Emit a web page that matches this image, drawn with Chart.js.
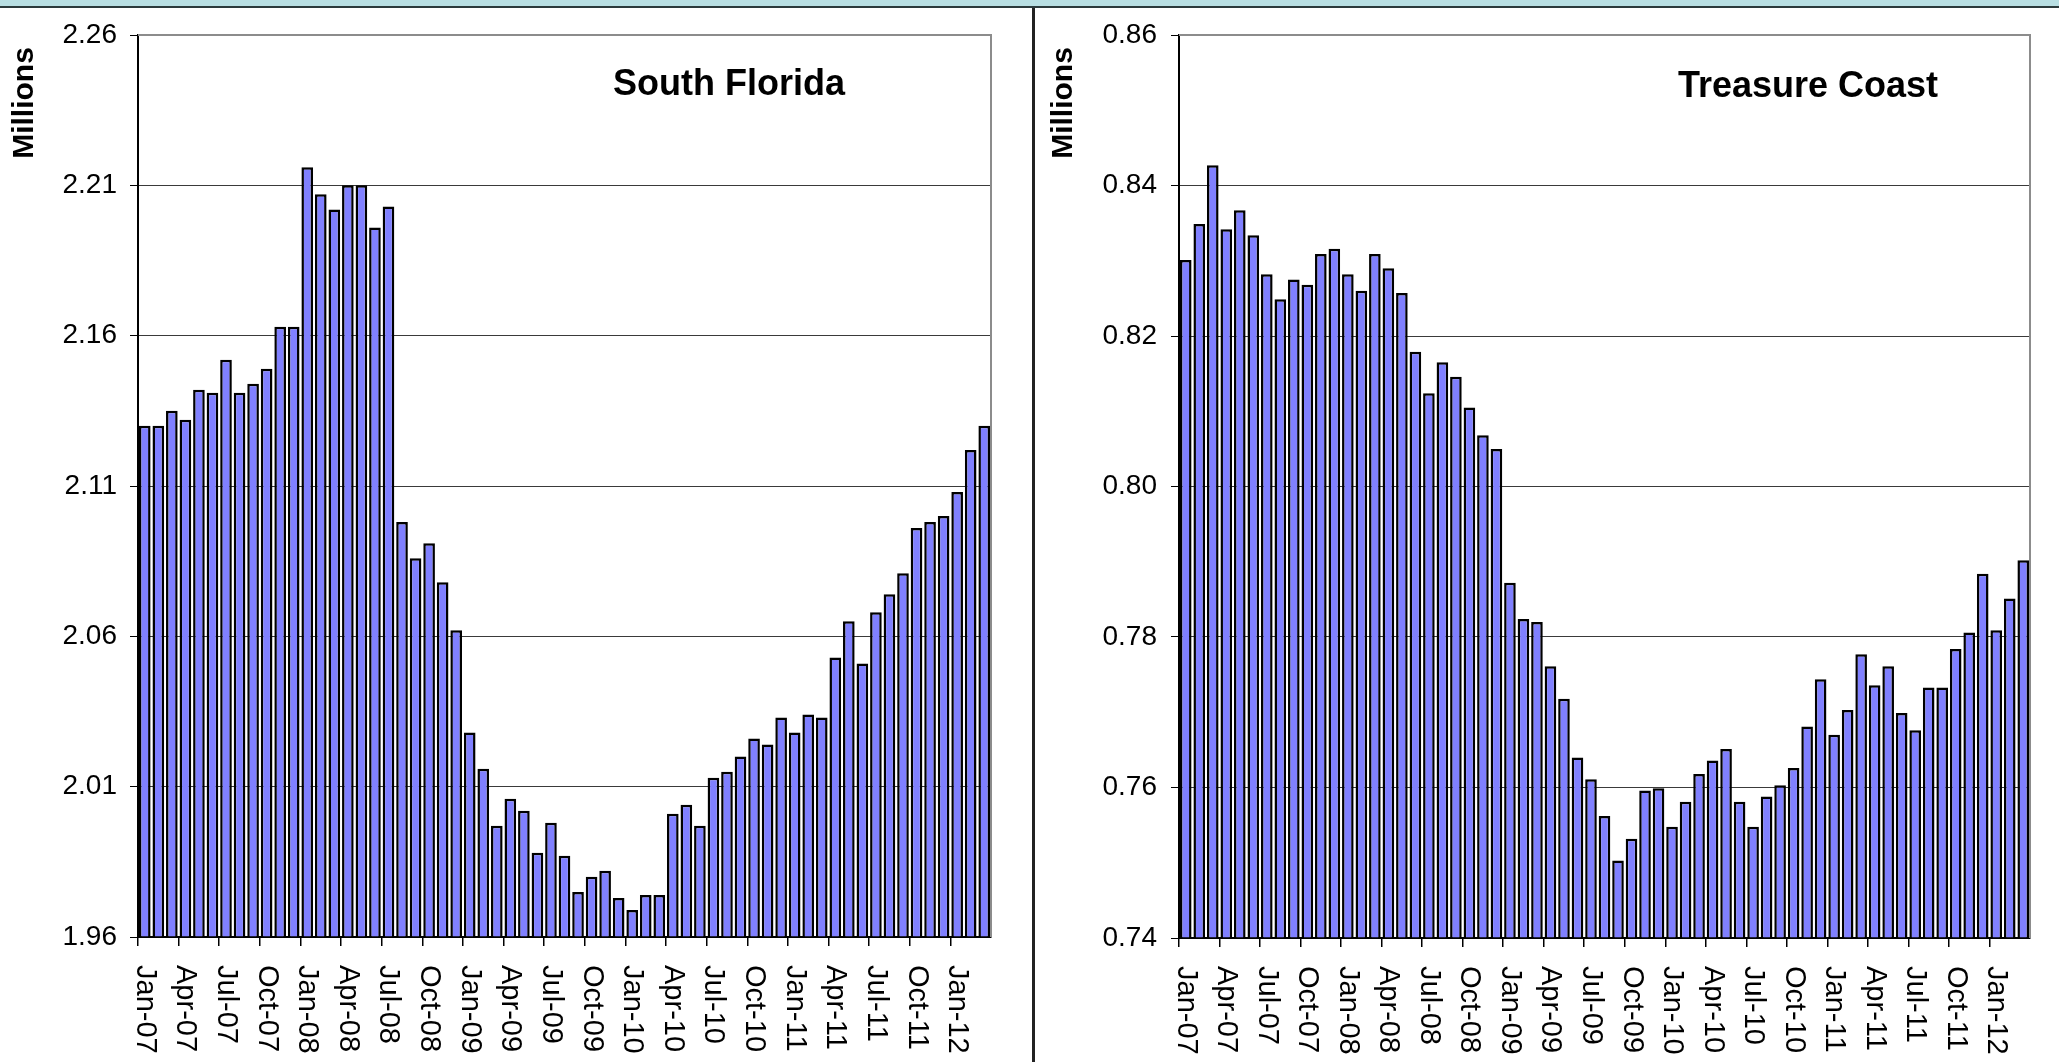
<!DOCTYPE html>
<html>
<head>
<meta charset="utf-8">
<script src="https://cdn.jsdelivr.net/npm/chart.js@4.4.1/dist/chart.umd.min.js"></script>
<style>
  html, body { margin: 0; padding: 0; background: #fff; }
  body { width: 2059px; height: 1062px; position: relative; overflow: hidden; }
  #band { position: absolute; left: 0; top: 0; width: 2059px; height: 6px; background: #b8dfe3; border-bottom: 2px solid #2b3a3c; z-index: 2; }
  #divider { position: absolute; left: 1032px; top: 8px; width: 3px; height: 1054px; background: #222; z-index: 2; }
  .panel { position: absolute; top: 0; height: 1062px; }
  #left { left: 0; width: 1031px; }
  #right { left: 1035px; width: 1024px; }
</style>
</head>
<body>
<div id="band"></div>
<div id="divider"></div>
<div class="panel" id="left"><canvas id="sfChart" width="1031" height="1062"></canvas></div>
<div class="panel" id="right"><canvas id="tcChart" width="1024" height="1062"></canvas></div>
<script>
const months = [
  'Jan-07', 'Feb-07', 'Mar-07', 'Apr-07', 'May-07', 'Jun-07', 'Jul-07', 'Aug-07', 'Sep-07', 'Oct-07', 'Nov-07', 'Dec-07',
  'Jan-08', 'Feb-08', 'Mar-08', 'Apr-08', 'May-08', 'Jun-08', 'Jul-08', 'Aug-08', 'Sep-08', 'Oct-08', 'Nov-08', 'Dec-08',
  'Jan-09', 'Feb-09', 'Mar-09', 'Apr-09', 'May-09', 'Jun-09', 'Jul-09', 'Aug-09', 'Sep-09', 'Oct-09', 'Nov-09', 'Dec-09',
  'Jan-10', 'Feb-10', 'Mar-10', 'Apr-10', 'May-10', 'Jun-10', 'Jul-10', 'Aug-10', 'Sep-10', 'Oct-10', 'Nov-10', 'Dec-10',
  'Jan-11', 'Feb-11', 'Mar-11', 'Apr-11', 'May-11', 'Jun-11', 'Jul-11', 'Aug-11', 'Sep-11', 'Oct-11', 'Nov-11', 'Dec-11',
  'Jan-12', 'Feb-12', 'Mar-12'
];

// millions
const southFlorida = [
  2.130, 2.130, 2.135, 2.132, 2.142, 2.141, 2.152, 2.141, 2.144, 2.149, 2.163, 2.163,
  2.216, 2.207, 2.202, 2.210, 2.210, 2.196, 2.203, 2.098, 2.086, 2.091, 2.078, 2.062,
  2.028, 2.016, 1.997, 2.006, 2.002, 1.988, 1.998, 1.987, 1.975, 1.980, 1.982, 1.973,
  1.969, 1.974, 1.974, 2.001, 2.004, 1.997, 2.013, 2.015, 2.020, 2.026, 2.024, 2.033,
  2.028, 2.034, 2.033, 2.053, 2.065, 2.051, 2.068, 2.074, 2.081, 2.096, 2.098, 2.100,
  2.108, 2.122, 2.130
];

const treasureCoast = [
  0.8301, 0.8349, 0.8427, 0.8342, 0.8367, 0.8334, 0.8282, 0.8249, 0.8275, 0.8268, 0.8309, 0.8316,
  0.8282, 0.8260, 0.8309, 0.8290, 0.8257, 0.8179, 0.8124, 0.8165, 0.8146, 0.8105, 0.8068, 0.8050,
  0.7872, 0.7824, 0.7820, 0.7761, 0.7718, 0.7640, 0.7611, 0.7562, 0.7503, 0.7532, 0.7596, 0.7599,
  0.7548, 0.7581, 0.7618, 0.7636, 0.7651, 0.7581, 0.7548, 0.7588, 0.7603, 0.7626, 0.7681, 0.7744,
  0.7670, 0.7703, 0.7777, 0.7736, 0.7761, 0.7699, 0.7676, 0.7733, 0.7733, 0.7784, 0.7806, 0.7884,
  0.7809, 0.7851, 0.7902
];

const sfTicks = [1.96, 2.01, 2.06, 2.11, 2.16, 2.21, 2.26];
const tcTicks = [0.74, 0.76, 0.78, 0.80, 0.82, 0.84, 0.86];

const FONT = "'Liberation Sans', Arial, sans-serif";

// frame, panel title, "Millions" and the clockwise month labels
const decor = {
  id: 'decor',
  afterDraw(chart, args, o) {
    const { ctx, chartArea: a } = chart;
    const xs = chart.scales.x;
    ctx.save();
    ctx.strokeStyle = '#8c8c8c';
    ctx.lineWidth = 2;
    ctx.beginPath();
    ctx.moveTo(a.left, a.top);
    ctx.lineTo(a.right, a.top);
    ctx.lineTo(a.right, a.bottom);
    ctx.stroke();

    ctx.fillStyle = '#000';
    ctx.font = 'bold 36px ' + FONT;
    ctx.textAlign = 'center';
    ctx.textBaseline = 'alphabetic';
    ctx.fillText(o.title, o.titleX, o.titleY);

    ctx.save();
    ctx.font = 'bold 30px ' + FONT;
    ctx.translate(o.unitX, 103);
    ctx.rotate(-Math.PI / 2);
    ctx.fillText('Millions', 0, 0);
    ctx.restore();

    ctx.font = '29px ' + FONT;
    ctx.textAlign = 'left';
    ctx.textBaseline = 'middle';
    for (let i = 0; i < months.length; i += 3) {
      ctx.save();
      ctx.translate(xs.getPixelForValue(i), a.bottom + 28);
      ctx.rotate(Math.PI / 2);
      ctx.fillText(months[i], 0, 0);
      ctx.restore();
    }
    ctx.restore();
  }
};

function makeChart(id, values, ticks, yWidth, xHeight, padRight, tickPad, deco) {
  const yMin = ticks[0];
  const yMax = ticks[ticks.length - 1];
  return new Chart(document.getElementById(id), {
    type: 'bar',
    data: {
      labels: months,
      datasets: [{
        data: values,
        base: yMin,
        backgroundColor: '#8080ff',
        borderColor: '#000',
        borderWidth: 2.5,
        barPercentage: 0.86,
        categoryPercentage: 1.0
      }]
    },
    options: {
      responsive: false,
      animation: false,
      layout: { padding: { top: 35, right: padRight, left: 0, bottom: 0 } },
      plugins: {
        legend: { display: false },
        tooltip: { enabled: false },
        decor: deco
      },
      scales: {
        x: {
          z: 1,
          afterFit: s => { s.height = xHeight; },
          ticks: { display: false, autoSkip: false },
          grid: {
            offset: true,
            drawOnChartArea: false,
            drawTicks: true,
            tickLength: 9,
            lineWidth: 1.5,
            color: c => (c.index % 3 === 0 ? '#000' : 'rgba(0,0,0,0)'),
            tickColor: c => (c.index % 3 === 0 ? '#000' : 'rgba(0,0,0,0)')
          },
          border: { display: true, color: '#000', width: 2 }
        },
        y: {
          min: yMin,
          max: yMax,
          afterFit: s => { s.width = yWidth; },
          afterBuildTicks: s => { s.ticks = ticks.map(v => ({ value: v })); },
          ticks: {
            padding: tickPad,
            color: '#000',
            font: { family: FONT, size: 28 },
            callback: v => Number(v).toFixed(2)
          },
          grid: {
            drawTicks: true,
            tickLength: 8,
            lineWidth: 1,
            color: c => (c.tick && c.tick.value === yMax ? '#8c8c8c' : '#3a3a3a'),
            tickColor: '#000'
          },
          border: { display: true, color: '#000', width: 2 }
        }
      }
    },
    plugins: [decor]
  });
}

makeChart('sfChart', southFlorida, sfTicks, 138, 125, 40, 13,
  { title: 'South Florida', titleX: 729, titleY: 95, unitX: 33 });
makeChart('tcChart', treasureCoast, tcTicks, 144, 124, 29, 14,
  { title: 'Treasure Coast', titleX: 773, titleY: 97, unitX: 37 });
</script>
</body>
</html>
